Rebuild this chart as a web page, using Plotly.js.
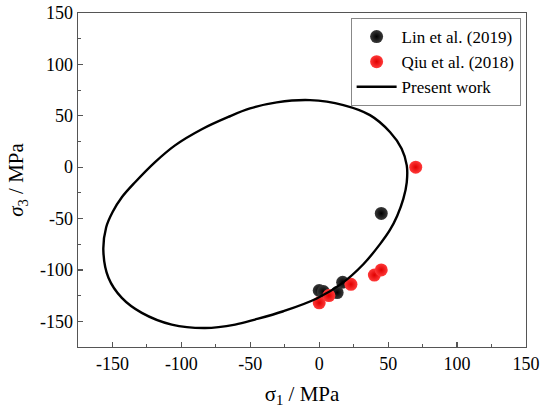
<!DOCTYPE html>
<html>
<head>
<meta charset="utf-8">
<script src="https://cdn.plot.ly/plotly-3.0.1.min.js"></script>
<style>html,body{margin:0;padding:0;background:#fff;}#chart{width:547px;height:408px;}</style>
</head>
<body>
<div id="chart"></div>
<script>
// Present work (curve)
var presentX = [-6.7, 17.5, 36.8, 51.3, 59.8, 63.5, 63.5, 61.0, 56.6, 51.3, 44.1, 32.0, 16.5, -1.8, -26.0, -46.6, -61.0, -82.8, -107.0, -128.7, -143.2, -152.9, -156.6, -154.6, -149.8, -143.2, -133.6, -119.1, -104.6, -85.2, -65.9, -50.2, -30.8, -6.7];
var presentY = [65.2, 60.4, 50.6, 34.2, 18.0, 1.7, -14.7, -30.9, -47.2, -61.1, -74.9, -94.5, -113.1, -127.8, -140.2, -148.3, -153.2, -156.5, -153.2, -141.8, -127.2, -107.6, -81.5, -58.7, -43.4, -29.3, -14.7, 4.9, 21.2, 36.9, 48.9, 57.1, 63.0, 65.2];
// Lin et al. (2019)
var linX = [45, 0, 3, 13, 17];
var linY = [-45, -120, -121, -122, -112];
// Qiu et al. (2018)
var qiuX = [70, 0, 7, 23, 40, 45];
var qiuY = [0, -132, -125, -114, -105, -100];

var xTicks = [-150, -100, -50, 0, 50, 100, 150];
var yTicks = [-150, -100, -50, 0, 50, 100, 150];

var fontFam = 'Liberation Serif, Times New Roman, serif';

var traces = [
  {x: linX, y: linY, mode: 'markers', type: 'scatter', name: 'Lin et al. (2019)',
   marker: {size: 13, color: '#3a3a3a', gradient: {type: 'radial', color: '#000000'}, line: {width: 0}}},
  {x: qiuX, y: qiuY, mode: 'markers', type: 'scatter', name: 'Qiu et al. (2018)',
   marker: {size: 13, color: '#ff3a3a', gradient: {type: 'radial', color: '#e00000'}, line: {width: 0}}},
  {x: presentX, y: presentY, mode: 'lines', type: 'scatter', name: 'Present work',
   line: {color: '#000', width: 2.4, shape: 'spline', smoothing: 1}}
];

var axisCommon = {
  showgrid: false, zeroline: false, showline: true, mirror: true,
  linecolor: '#555', linewidth: 1.3,
  ticks: 'inside', ticklen: 5, tickcolor: '#555', tickwidth: 1.2,
  tickfont: {family: fontFam, size: 18, color: '#000'},
  minor: {ticks: 'inside', ticklen: 3, dtick: 25, tickcolor: '#555', tickwidth: 1}
};

var layout = {
  width: 547, height: 408,
  margin: {l: 78, r: 21, t: 13, b: 61},
  paper_bgcolor: '#fff', plot_bgcolor: '#fff',
  font: {family: fontFam, color: '#000'},
  showlegend: true,
  xaxis: Object.assign({}, axisCommon, {
    range: [-175, 150], tickvals: xTicks, ticktext: xTicks.map(String),
    title: {text: 'σ<sub>1</sub> / MPa', font: {family: fontFam, size: 21}, standoff: 14}
  }),
  yaxis: Object.assign({}, axisCommon, {
    range: [-175, 150], tickvals: yTicks, ticktext: yTicks.map(String),
    title: {text: '<i>σ</i><sub>3</sub> / MPa', font: {family: fontFam, size: 21}, standoff: 10}
  }),
  legend: {
    x: 0.988, y: 0.985, xanchor: 'right', yanchor: 'top',
    bgcolor: '#fff', bordercolor: '#888', borderwidth: 1,
    font: {family: fontFam, size: 17, color: '#000'},
    itemwidth: 40, tracegroupgap: 0
  }
};

Plotly.newPlot('chart', traces, layout, {displayModeBar: false, staticPlot: true});
</script>
</body>
</html>
